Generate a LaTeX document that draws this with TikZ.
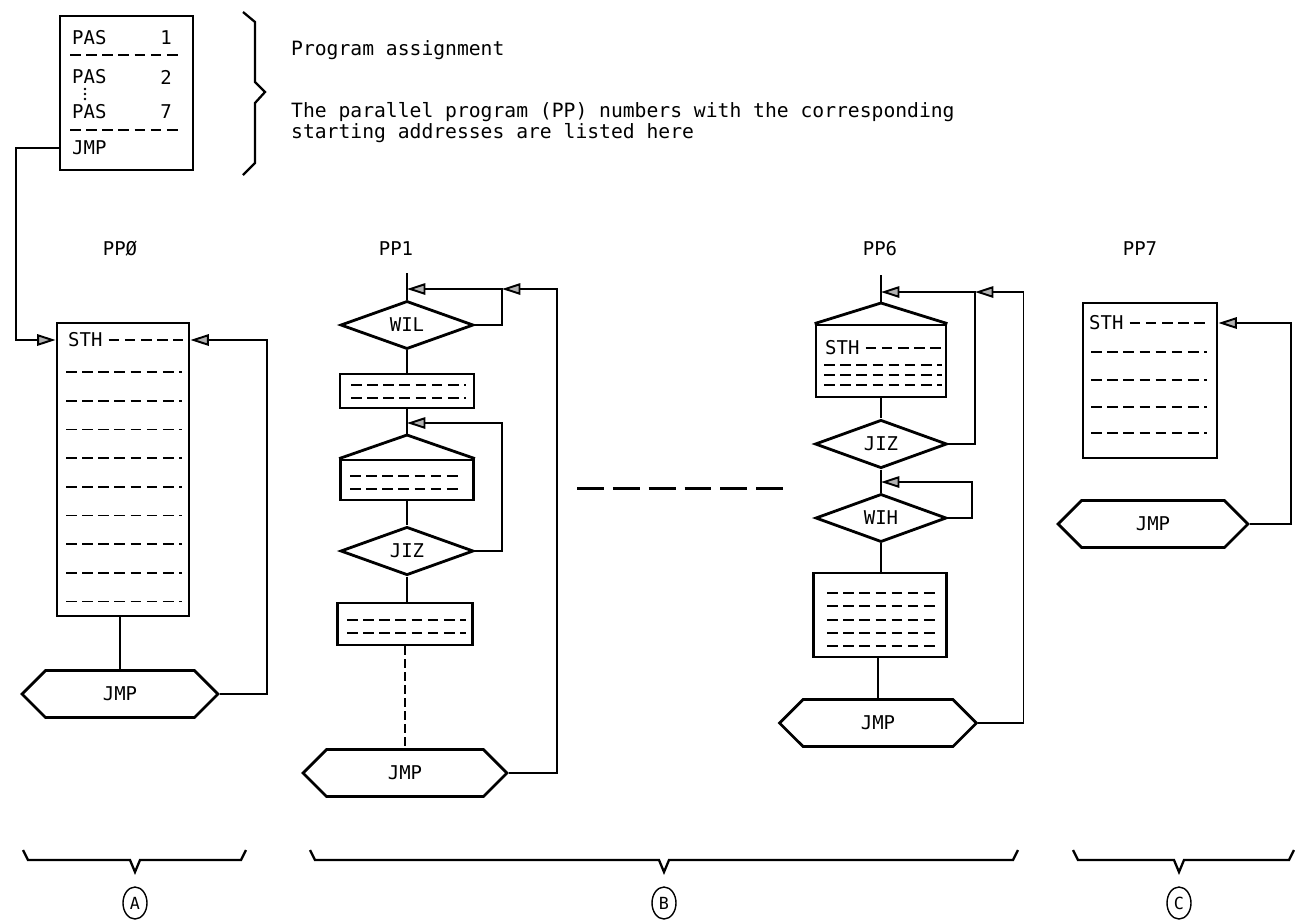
\documentclass[tikz,border=0pt]{standalone}
\usepackage{fontspec}
\setmainfont{DejaVu Sans Mono}
\usetikzlibrary{positioning,calc,shapes.geometric,shapes.symbols,arrows.meta}

\begin{document}
\begin{tikzpicture}[
  x=0.02cm, y=-0.02cm,
  font=\fontsize{10.8}{12}\selectfont,
  shp/.style={draw, line width=1.6pt, inner sep=0pt},
  codebox/.style={shp, rectangle},
  cond/.style={shp, diamond, minimum width=2.66cm, minimum height=0.94cm},
  jump/.style={shp, signal, signal to=east and west, signal pointer angle=90, minimum height=0.94cm},
  conn/.style={line width=1.1pt},
  arr/.style={conn, -{Triangle[length=10.5pt, width=6.5pt, fill=gray!60]}},
  dsh/.style={line width=1pt, dash pattern=on 6pt off 3.2pt},
  brace/.style={line width=1.3pt},
  tag/.style={draw, ellipse, line width=0.8pt, minimum width=0.48cm, minimum height=0.64cm, inner sep=0pt, font=\fontsize{9.5}{10}\selectfont}
]
\fill[white] (0,0) rectangle (1295,921);
\useasboundingbox (0,0) rectangle (1295,921);

% program assignment table
\node[codebox, minimum width=2.66cm, minimum height=3.08cm] (pas) at (126.5,93) {};
\node[anchor=west] (pas1) at (66,38) {PAS};
\node[anchor=east] (nr1) at (178,38) {1};
\draw[dsh] (70,55) -- (178,55);
\node[anchor=west] (pas2) at (66,77) {PAS};
\node[anchor=east] (nr2) at (178,77) {2};
\foreach \yy in {89,94,99} \fill (85,\yy) circle (0.8pt);
\node[anchor=west] (pas7) at (66,112) {PAS};
\node[anchor=east] (nr7) at (178,112) {7};
\draw[dsh] (70,130) -- (178,130);
\node[anchor=west] (pjmp) at (66,148) {JMP};

\draw[brace] (243,12) -- (255,22) -- (255,82) -- (265,92) -- (255,103) -- (255,163) -- (243,175);
\node[anchor=west, font=\fontsize{11.2}{12}\selectfont] (assign) at (285,50) {Program assignment};
\node[anchor=north west, align=left, font=\fontsize{11.2}{10}\selectfont] (note) at (285,96)
  {The parallel program (PP) numbers with the corresponding\\starting addresses are listed here};

% PP0
\node (pp0) at (120,249) {PPØ};
\node[codebox, minimum width=2.64cm, minimum height=5.86cm] (b0) at (123,469.5) {};
\node[anchor=west] (sth0) at (62,340) {STH};
\draw[dsh] (sth0.east) -- (183,340);
\foreach \k in {0,...,8} \draw[dsh] (66,{372+28.7*\k}) -- (182,{372+28.7*\k});
\node[jump, minimum width=3.92cm] (jmp0) at (120,694) {JMP};
\draw[conn] (jmp0.north |- b0.south) -- (jmp0.north);
\draw[arr] (jmp0.east) -- ++(47,0) |- (b0.east |- sth0);
\draw[arr] (pas.west |- pjmp) -- ++(-43,0) |- (b0.west |- sth0);

% PP1
\node (pp1) at (396,249) {PP1};
\coordinate (top1) at (407,273);
\coordinate (roof1) at (407,435);
\node[cond] (wil) at (407,325) {WIL};
\node[codebox, minimum width=2.68cm, minimum height=0.68cm] (b11) at (407,391) {};
\node[codebox, minimum width=2.66cm, minimum height=0.80cm] (b12) at (407,480) {};
\node[cond] (jiz1) at (407,551) {JIZ};
\node[codebox, minimum width=2.70cm, minimum height=0.84cm] (b13) at (405,624) {};
\node[jump, minimum width=4.08cm] (jmp1) at (405,773) {JMP};
\foreach \yy in {385,398} \draw[dsh] (351,\yy) -- (466,\yy);
\foreach \yy in {476,489} \draw[dsh] (350,\yy) -- (458,\yy);
\foreach \yy in {620,633} \draw[dsh] (347,\yy) -- (466,\yy);
\draw[conn] (top1) -- (wil.north);
\draw[conn] (wil.south) -- (b11.north);
\draw[conn] (b11.south) -- (roof1);
\draw[shp] (b12.north west) -- (roof1) -- (b12.north east);
\draw[conn] (b12.south) -- (jiz1.north);
\draw[conn] (jiz1.south) -- (jiz1.south |- b13.north);
\draw[conn, dash pattern=on 5pt off 2.4pt] (b13.south) -- (jmp1.north);
\coordinate (j11) at (502,289);
\coordinate (j12) at (502,423);
\draw[arr] (wil.east) -| (j11) -- (top1 |- j11);
\draw[arr] (jiz1.east) -| (j12) -- (roof1 |- j12);
\draw[arr] (jmp1.east) -- ++(48,0) |- (j11);

% between PP1 and PP6
\coordinate (gapl) at (577,488);
\coordinate (gapr) at (788,488);
\draw[line width=1.7pt, dash pattern=on 15.3pt off 5.1pt] (gapl) -- (gapr);

% PP6
\node (pp6) at (880,249) {PP6};
\coordinate (top6) at (881,275);
\coordinate (roof6) at (881,303);
\node[codebox, minimum width=2.60cm, minimum height=1.44cm] (b61) at (881,361) {};
\node[anchor=west] (sth6) at (819,348) {STH};
\draw[dsh] (sth6.east) -- (942,348);
\foreach \yy in {365,375,385} \draw[dsh] (824,\yy) -- (942,\yy);
\node[cond, minimum width=2.64cm] (jiz6) at (881,444) {JIZ};
\node[cond, minimum width=2.62cm] (wih) at (881,518) {WIH};
\node[codebox, minimum width=2.66cm, minimum height=1.68cm] (b62) at (880,615) {};
\foreach \yy in {593,606,620,633,646} \draw[dsh] (827,\yy) -- (938,\yy);
\node[jump, minimum width=3.94cm] (jmp6) at (878,723) {JMP};
\draw[conn] (top6) -- (roof6);
\draw[shp] (b61.north west) -- (roof6) -- (b61.north east);
\draw[conn] (b61.south) -- (jiz6.north);
\draw[conn] (jiz6.south) -- (wih.north);
\draw[conn] (wih.south) -- (wih.south |- b62.north);
\draw[conn] (jmp6.north |- b62.south) -- (jmp6.north);
\coordinate (j61) at (975,292);
\coordinate (j62) at (972,482);
\draw[arr] (jiz6.east) -| (j61) -- (top6 |- j61);
\draw[arr] (wih.east) -| (j62) -- (top6 |- j62);
\draw[arr] (jmp6.east) -- ++(45,0) |- (j61);

% PP7
\node (pp7) at (1140,249) {PP7};
\node[codebox, minimum width=2.68cm, minimum height=3.10cm] (b7) at (1150,380.5) {};
\node[anchor=west] (sth7) at (1083,323) {STH};
\draw[dsh] (sth7.east) -- (1207,323);
\foreach \yy in {352,380,407,433} \draw[dsh] (1091,\yy) -- (1207,\yy);
\node[jump, minimum width=3.80cm] (jmp7) at (1153,524) {JMP};
\draw[arr] (jmp7.east) -- ++(41,0) |- (b7.east |- sth7);

% groups
\draw[brace] (23,850) -- (28,860) -- (130,860) -- (135,872) -- (140,860) -- (241,860) -- (246,850);
\draw[brace] (310,850) -- (315,860) -- (659,860) -- (664,872) -- (669,860) -- (1013,860) -- (1018,850);
\draw[brace] (1073,850) -- (1078,860) -- (1174,860) -- (1179,872) -- (1184,860) -- (1289,860) -- (1294,850);
\node[tag] (grpa) at (135,903) {A};
\node[tag] (grpb) at (664,903) {B};
\node[tag] (grpc) at (1179,903) {C};
\end{tikzpicture}
\end{document}
